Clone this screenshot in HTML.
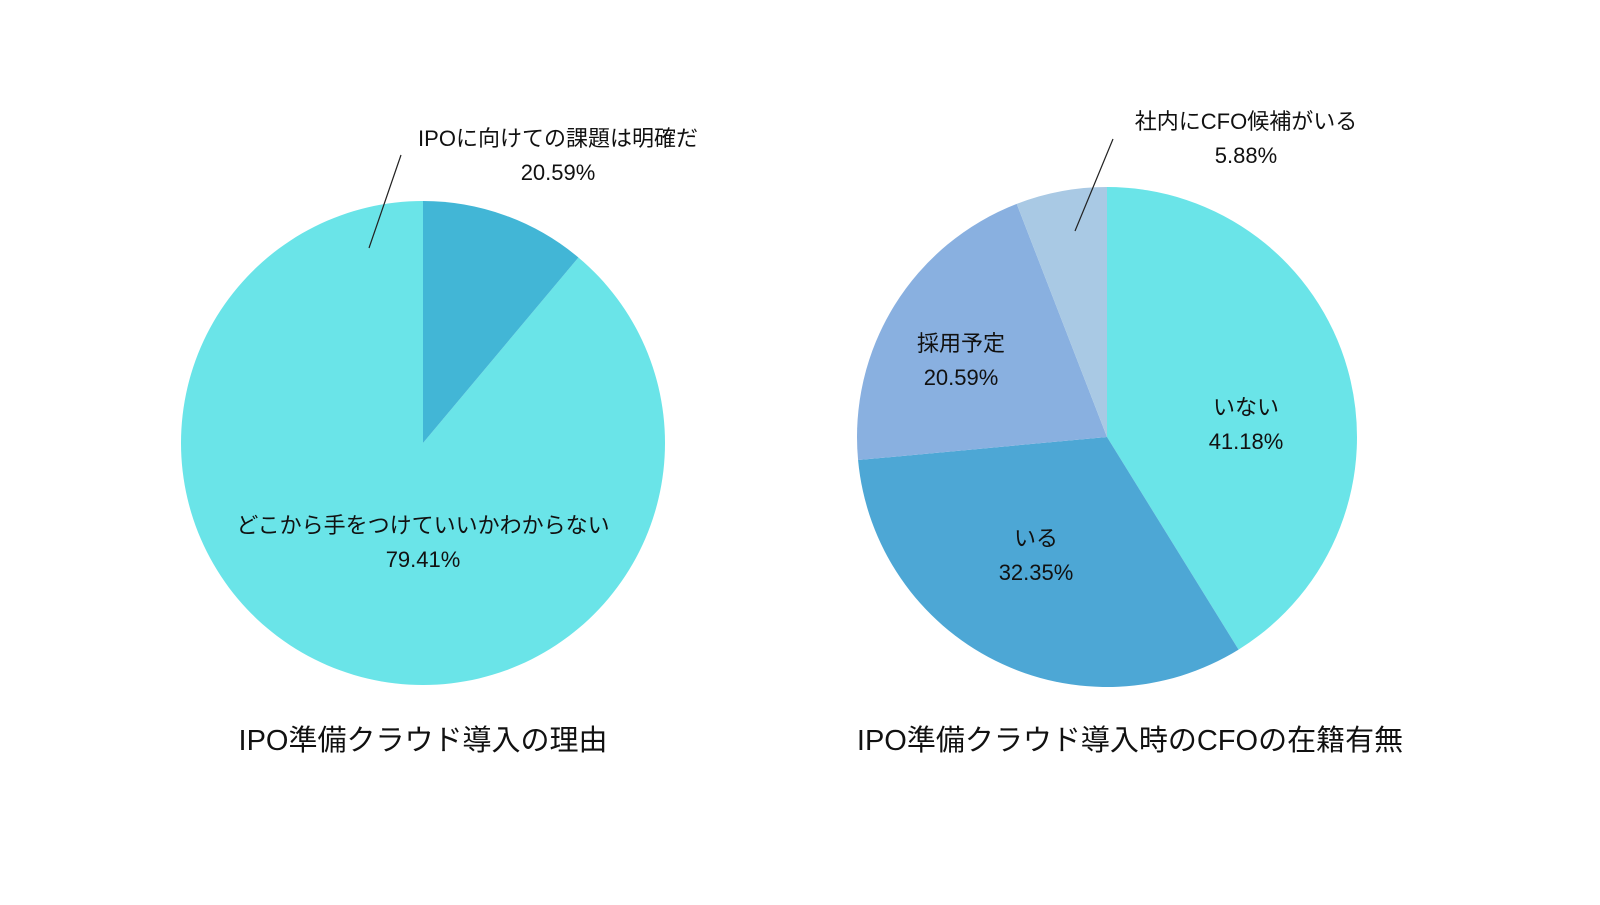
<!DOCTYPE html>
<html><head><meta charset="utf-8"><style>
html,body{margin:0;padding:0;background:#fff;}
svg text{font-family:"Liberation Sans","Noto Sans CJK JP",sans-serif;fill:#111;}
</style></head><body>
<svg width="1600" height="900" viewBox="0 0 1600 900" id="svg">
<text x="423" y="750" font-size="29" text-anchor="middle">IPO準備クラウド導入の理由</text>
<text x="1130" y="750" font-size="29" text-anchor="middle">IPO準備クラウド導入時のCFOの在籍有無</text>
</svg>
<script>
// Left chart: drawn slice proportions (as they appear) and printed labels
const leftCategories = ["どこから手をつけていいかわからない", "IPOに向けての課題は明確だ"];
const leftValues = [88.9, 11.1];
const leftPrinted = ["79.41%", "20.59%"];
const leftColors = ["#6ae4e8", "#42b6d6"];
// Right chart
const rightCategories = ["いない", "いる", "採用予定", "社内にCFO候補がいる"];
const rightValues = [41.18, 32.35, 20.59, 5.88];
const rightPrinted = ["41.18%", "32.35%", "20.59%", "5.88%"];
const rightColors = ["#6ae4e8", "#4da7d5", "#89b0e0", "#a9c9e4"];

const NS = "http://www.w3.org/2000/svg";
const svg = document.getElementById("svg");
function mk(tag, attrs){const e=document.createElementNS(NS,tag);for(const k in attrs)e.setAttribute(k,attrs[k]);return e;}
function pt(cx,cy,r,a){return [cx+r*Math.sin(a), cy-r*Math.cos(a)];}

function drawPie(cx,cy,r,values,colors,cats,printed,dir,labelPos,prefix){
  const total=values.reduce((a,b)=>a+b,0);
  let a0=0;
  values.forEach((v,i)=>{
    const sweep=v/total*2*Math.PI;
    const a1=a0+sweep*dir;
    const p0=pt(cx,cy,r,a0), p1=pt(cx,cy,r,a1);
    const large=sweep>Math.PI?1:0;
    const path=mk("path",{d:`M${cx},${cy} L${p0[0]},${p0[1]} A${r},${r} 0 ${large} ${dir>0?1:0} ${p1[0]},${p1[1]} Z`,fill:colors[i]});
    
    
    svg.appendChild(path);
    a0=a1;
  });
  values.forEach((v,i)=>{
    const L=labelPos[i];
    const g=mk("g",{});
    
    
    const t1=mk("text",{x:L.x,y:L.y,"font-size":"22","text-anchor":"middle"});t1.textContent=cats[i];
    const t2=mk("text",{x:L.x,y:L.y+34,"font-size":"22","text-anchor":"middle"});t2.textContent=printed[i];
    g.appendChild(t1);g.appendChild(t2);
    if(L.line){const ln=mk("line",{x1:L.line[0],y1:L.line[1],x2:L.line[2],y2:L.line[3],stroke:"#222","stroke-width":"1.2"});g.appendChild(ln);}
    svg.appendChild(g);
  });
}
drawPie(423,443,242,leftValues,leftColors,leftCategories,leftPrinted,-1,
  [{x:423,y:533},{x:558,y:146,line:[401,155,369,248]}],"left");
drawPie(1107,437,250,rightValues,rightColors,rightCategories,rightPrinted,1,
  [{x:1246,y:415},{x:1036,y:546},{x:961,y:351},{x:1246,y:129,line:[1113,139,1075,231]}],"right");
</script>
</body></html>
